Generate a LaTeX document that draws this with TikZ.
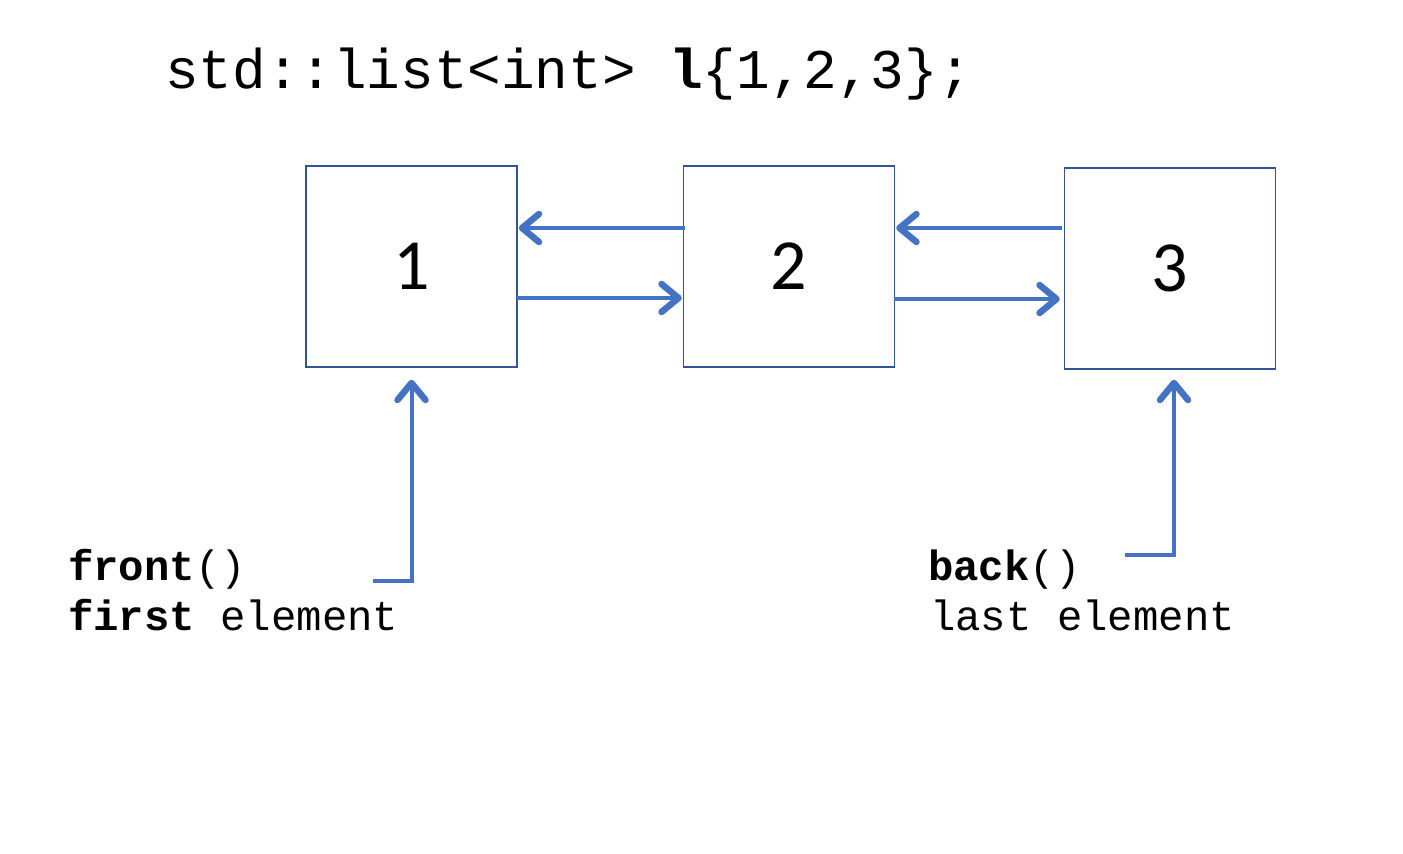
\documentclass[tikz,border=0pt]{standalone}
\usepackage{fontspec}
\setmonofont{Liberation Mono}
\setsansfont{Carlito}
\usetikzlibrary{arrows.meta}
\definecolor{arrowblue}{HTML}{4472C4}
\definecolor{boxblue}{HTML}{2F5597}
\begin{document}
\begin{tikzpicture}[x=1pt,y=-1pt,
  elem/.style={draw=boxblue,line width=1.5pt,minimum width=211pt,minimum height=201pt,inner sep=0pt,
    font=\sffamily\fontsize{72}{76}\selectfont},
  link/.style={draw=arrowblue,line width=4pt,-{Straight Barb[length=17pt,width=28pt,line width=6.5pt,round]}},
  title/.style={font=\ttfamily\fontsize{56}{60}\selectfont,anchor=base west,inner sep=0pt},
  lbl/.style={font=\ttfamily\fontsize{42.3}{46}\selectfont,anchor=base west,inner sep=0pt}]
\useasboundingbox (0,0) rectangle (1403,854);
\node[title] (t) at (165,88) {std::list<int> \textbf{l}\{1,2,3\};};
\node[elem] (b1) at (411.5,266.5) {1};
\node[elem] (b2) at (789,266.5) {\raisebox{-4pt}{2}};
\node[elem] (b3) at (1170,268.5) {\raisebox{-2pt}{3}};
\draw[link] ([yshift=38.5pt,xshift=2pt]b2.west) -- ([yshift=38.5pt,xshift=1pt]b1.east);
\draw[link] ([yshift=-31.5pt,xshift=-1pt]b1.east) -- ([yshift=-31.5pt,xshift=-1pt]b2.west);
\draw[link] ([yshift=40.5pt,xshift=-2pt]b3.west) -- ([yshift=38.5pt,xshift=1pt]b2.east);
\draw[link] ([yshift=-32.5pt,xshift=-1pt]b2.east) -- ([yshift=-30.5pt,xshift=-4pt]b3.west);
\node[lbl] (f1) at (68,580) {\textbf{front}()};
\node[lbl] (f2) at (68,630) {\textbf{first} element};
\node[lbl] (k1) at (928,580) {\textbf{back}()};
\node[lbl] (k2) at (930,630) {last element};
\coordinate (fs) at (373,581);
\coordinate (ks) at (1125,555);
\coordinate (ft) at ([yshift=-12pt]b1.south);
\coordinate (kt) at ([yshift=-10pt,xshift=4pt]b3.south);
\draw[link] (fs) -- (ft |- fs) -- (ft);
\draw[link] (ks) -- (kt |- ks) -- (kt);
\end{tikzpicture}
\end{document}
